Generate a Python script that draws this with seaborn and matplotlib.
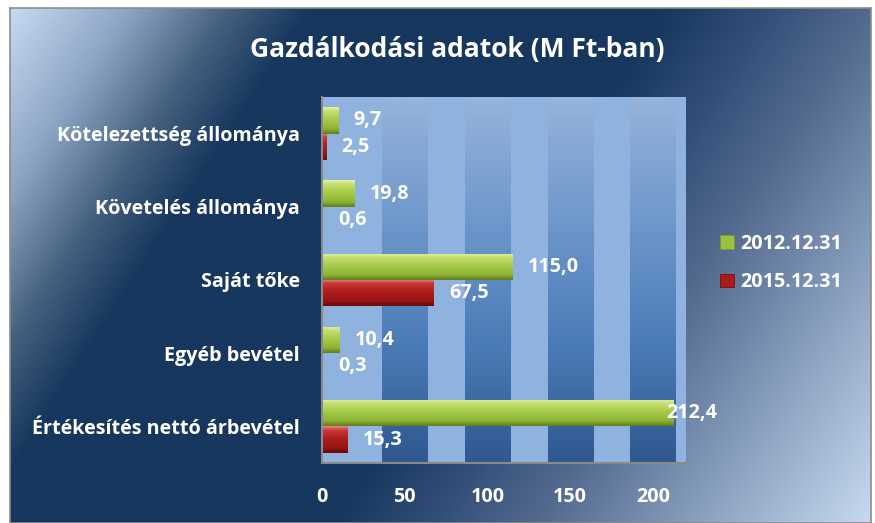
import numpy as np
import pandas as pd
import matplotlib
matplotlib.use("Agg")
import matplotlib.pyplot as plt
from matplotlib.colors import LinearSegmentedColormap
from matplotlib.patches import Patch, Rectangle
import seaborn as sns

# ---------------- data ----------------
categories = ["Kötelezettség állománya", "Követelés állománya", "Saját tőke",
              "Egyéb bevétel", "Értékesítés nettó árbevétel"]
series_names = ["2012.12.31", "2015.12.31"]
values_2012 = [9.7, 19.8, 115.0, 10.4, 212.4]
values_2015 = [2.5, 0.6, 67.5, 0.3, 15.3]
x_ticks = [0, 50, 100, 150, 200]
title = "Gazdálkodási adatok (M Ft-ban)"

df = pd.DataFrame({
    "kategoria": categories * 2,
    "ertek": values_2012 + values_2015,
    "idopont": [series_names[0]] * len(categories) + [series_names[1]] * len(categories),
})

# ---------------- style ----------------
sns.set_theme(style="white")
plt.rcParams["font.family"] = ["Open Sans", "DejaVu Sans"]
plt.rcParams["font.weight"] = "bold"
FS = 14.2

W, H = 875, 523
fig = plt.figure(figsize=(W / 100, H / 100), dpi=100)
fig.patch.set_facecolor("white")

# background gradient (chart area)
bg = fig.add_axes([10 / W, 0, 861 / W, 515 / H], zorder=-5)
gx = np.linspace(0, 1, 400)
gy = np.linspace(0, 1, 240)
GX, GY = np.meshgrid(gx, gy)
T = 0.72 * GX + 0.28 * GY
bg_cmap = LinearSegmentedColormap.from_list("bg", [
    (0.00, "#c6d9f1"), (0.10, "#8ba3c3"), (0.18, "#46617f"), (0.25, "#17375e"),
    (0.55, "#17375e"), (0.64, "#34507a"), (0.72, "#52698e"), (0.80, "#7289ab"),
    (0.90, "#9cb1cd"), (1.00, "#c6d8ee")])
bg.imshow(T, cmap=bg_cmap, vmin=0, vmax=1, aspect="auto", origin="upper",
          extent=(0, 1, 1, 0), interpolation="bicubic")
bg.set_xlim(0, 1)
bg.set_ylim(1, 0)
bg.set_xticks([])
bg.set_yticks([])
for s in bg.spines.values():
    s.set_color("#8c8c8c")
    s.set_linewidth(1.2)

# plot axes
ax = fig.add_axes([322 / W, 1 - 463 / H, (686 - 322) / W, (463 - 97) / H])
ax.set_facecolor("#8fb3de")

sns.barplot(data=df, y="kategoria", x="ertek", hue="idopont", orient="h",
            order=categories, hue_order=series_names,
            palette=["#9dc13f", "#b01e1e"], width=0.72, gap=0,
            saturation=1, ax=ax, legend=False, zorder=3, linewidth=0)

xmax = 220
ax.set_xlim(0, xmax)
ylim = ax.get_ylim()

# dark stripes with vertical gradient
stripe_cmap = LinearSegmentedColormap.from_list("st", ["#97b4da", "#6f98cc", "#4c7cb8", "#2f5890"])
grad = np.linspace(0, 1, 256).reshape(-1, 1)
half = 13.6
for c in x_ticks[1:]:
    ax.imshow(grad, cmap=stripe_cmap, aspect="auto", origin="upper",
              extent=(c - half, c + half, ylim[0], ylim[1]), zorder=0.5,
              interpolation="bilinear")

# bevelled bars
green_cmap = LinearSegmentedColormap.from_list("g", [
    (0.0, "#e4f4a4"), (0.15, "#c6df72"), (0.45, "#a8cb4b"), (0.8, "#8fb434"), (1.0, "#5f7d1c")])
red_cmap = LinearSegmentedColormap.from_list("r", [
    (0.0, "#eb8a8a"), (0.15, "#c83a3a"), (0.45, "#b01e1e"), (0.8, "#951414"), (1.0, "#6a0a0a")])
bars = [p for p in ax.patches if isinstance(p, Rectangle) and p.get_width() > 0]
n = len(categories)
all_vals = values_2012 + values_2015
for i, p in enumerate(bars[:2 * n]):
    cmap = green_cmap if i < n else red_cmap
    x0, y0 = p.get_x(), p.get_y()
    w, h = p.get_width(), p.get_height()
    im = ax.imshow(grad, cmap=cmap, aspect="auto", origin="upper",
                   extent=(x0, x0 + w, y0 + h, y0), zorder=3.5, interpolation="bilinear")
    im.set_clip_path(p)

ax.set_xlim(0, xmax)
ax.set_ylim(ylim)

# value labels
for i, p in enumerate(bars[:2 * n]):
    v = all_vals[i]
    yc = p.get_y() + p.get_height() / 2
    txt = f"{v:.1f}".replace(".", ",")
    off = 11 if v < 0.9 * xmax else -5
    ax.annotate(txt, xy=(v, yc), xytext=(off, 0), textcoords="offset points",
                ha="left", va="center", color="white", fontsize=FS,
                fontweight="bold", zorder=6, annotation_clip=False)

ax.set_xticks(x_ticks)
ax.set_xticklabels([str(t) for t in x_ticks])
ax.tick_params(axis="x", length=0, pad=17, labelsize=FS, labelcolor="white")
ax.tick_params(axis="y", length=0, pad=16, labelsize=FS, labelcolor="white")
for lbl in ax.get_xticklabels() + ax.get_yticklabels():
    lbl.set_fontweight("bold")
ax.set_xlabel("")
ax.set_ylabel("")
ax.grid(False)
for side in ["top", "right"]:
    ax.spines[side].set_visible(False)
for side in ["left", "bottom"]:
    ax.spines[side].set_visible(True)
    ax.spines[side].set_color("#8a8a8a")
    ax.spines[side].set_linewidth(1.5)
    ax.spines[side].set_zorder(7)

# legend
handles = [Patch(facecolor="#9dc13f", edgecolor="#7a9a28", linewidth=0.6),
           Patch(facecolor="#a81c1c", edgecolor="#7a0c0c", linewidth=0.6)]
fig.legend(handles, series_names, loc="center left",
           bbox_to_anchor=(710 / W, 1 - 263 / H), frameon=False,
           prop={"weight": "bold", "size": FS}, labelcolor="white",
           handlelength=0.7, handleheight=0.7, handletextpad=0.35,
           labelspacing=0.95, borderpad=0)

fig.text(457 / W, 1 - 49 / H, title, ha="center", va="center", color="white",
         fontsize=19, fontweight="bold")

fig.savefig("out.png", dpi=100)
